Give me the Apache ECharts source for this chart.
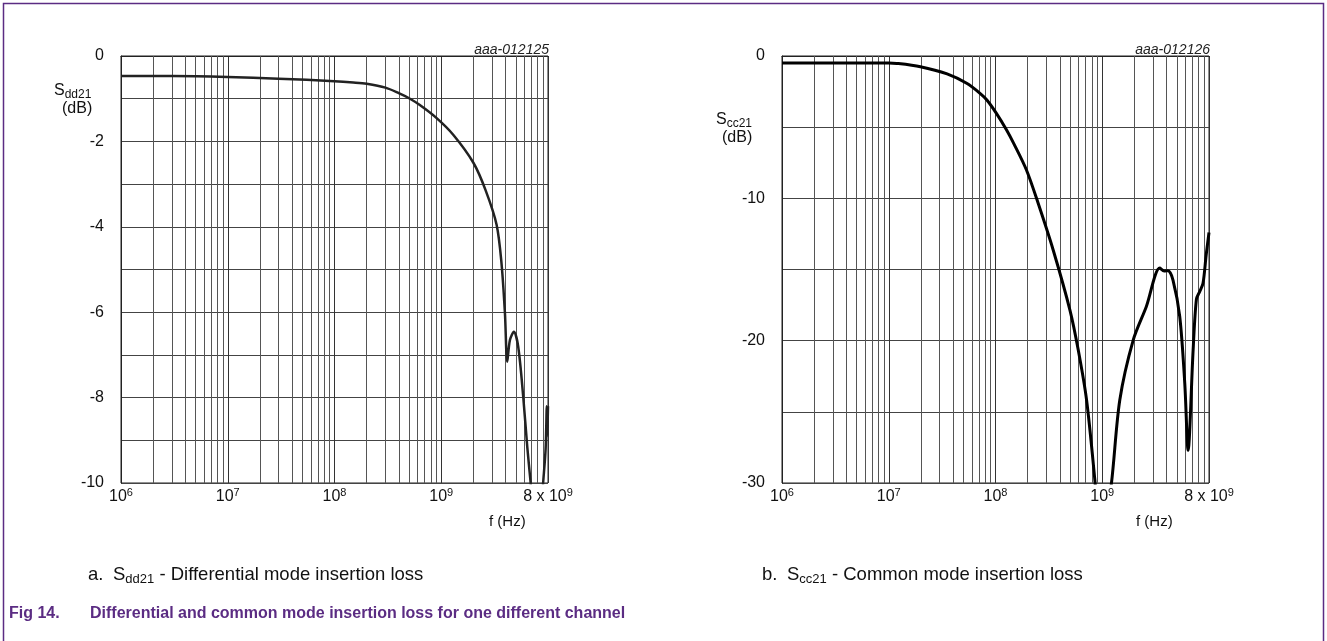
<!DOCTYPE html>
<html>
<head>
<meta charset="utf-8">
<script src="https://cdn.jsdelivr.net/npm/echarts@6/dist/echarts.min.js"></script>
<style>
  html, body { margin: 0; padding: 0; background: #fff; }
  #chart { width: 1327px; height: 641px; }
</style>
</head>
<body>
<div id="chart"></div>
<script>
// a. Sdd21 differential mode insertion loss (f in Hz, value in dB)
var sddFreq = [1e6, 3e6, 1e7, 3e7, 1e8, 1.5e8, 2e8, 3e8, 4e8, 5e8, 6.3e8, 9e8, 1.3e9, 2e9, 2.6e9, 3.3e9,
  3.67e9, 3.95e9, 4.15e9, 4.4e9, 4.79e9, 5.26e9, 5.86e9, 6.39e9, 6.88e9, 7.6e9, 8.4e9, 9.0e9,
  9.5e9, 9.75e9, 9.85e9, 1e10];
var sddLoss = [-0.47, -0.47, -0.49, -0.53, -0.59, -0.62, -0.65, -0.74, -0.87, -0.99, -1.15, -1.45, -1.85, -2.5, -3.14, -3.95,
  -4.86, -6.02, -7.16, -6.65, -6.46, -6.81, -7.98, -9.15, -10.0, -11.2, -11.0, -10.0,
  -9.2, -8.2, -8.9, -8.2];

// b. Scc21 common mode insertion loss
var sccFreq = [1e6, 1e7, 1.19e7, 1.98e7, 3.52e7, 5.37e7, 7.16e7, 8.3e7, 1.02e8, 1.27e8, 1.48e8, 1.95e8, 2.51e8,
  3.47e8, 4.98e8, 5.96e8, 7.13e8, 8.53e8, 9.3e8, 1.05e9, 1.22e9, 1.46e9, 1.95e9, 2.59e9,
  3.46e9, 3.8e9, 4.14e9, 4.6e9, 5.32e9, 5.93e9, 6.37e9, 7.1e9, 7.62e9, 8.18e9, 8.79e9, 9.4e9, 1e10];
var sccLoss = [-0.5, -0.5, -0.52, -0.75, -1.26, -1.92, -2.62, -3.09, -4.03, -5.2, -6.14, -8.01, -10.35,
  -13.63, -17.85, -20.66, -24.17, -29.8, -33, -33, -30, -24.17, -19.96, -17.6,
  -14.9, -15.1, -15.08, -15.74, -18.3, -23.0, -27.7, -20.66, -17.1, -16.55, -15.97, -14.0, -12.4];

// log grid: 1..9 x each decade
var decades = [1e6, 1e7, 1e8, 1e9];
var gridSteps = [1, 2, 3, 4, 5, 6, 7, 8, 9];

var FONT = '"Liberation Sans", Arial, sans-serif';
var PURPLE = '#5b2c83';

function pairs(xs, ys) {
  return xs.map(function (x, i) { return [x, ys[i]]; });
}

var vLines = [];
decades.forEach(function (d) {
  gridSteps.forEach(function (s) {
    if (s > 1) vLines.push({ xAxis: d * s });
  });
});

function xLabel(v) {
  var e = Math.round(Math.log10(v));
  if (e === 10) return '{m|8 x 10}{s|9}';
  return '{m|10}{s|' + e + '}';
}

var xAxisBase = {
  type: 'log',
  logBase: 10,
  min: 1e6,
  max: 1e10,
  axisLine: { show: true, lineStyle: { color: '#222', width: 1 } },
  axisTick: { show: false },
  splitLine: { show: true, lineStyle: { color: '#333', width: 1 } },
  axisLabel: {
    margin: 4,
    color: '#111',
    fontFamily: FONT,
    formatter: xLabel,
    rich: {
      m: { fontSize: 16, fontFamily: FONT, color: '#111' },
      s: { fontSize: 11, fontFamily: FONT, color: '#111', padding: [0, 0, 9, 0] }
    }
  }
};

function gridSeries(idx) {
  return {
    type: 'line',
    xAxisIndex: idx,
    yAxisIndex: idx,
    data: [],
    silent: true,
    z: 1,
    markLine: {
      silent: true,
      symbol: 'none',
      label: { show: false },
      lineStyle: { color: '#555', width: 1, type: 'solid' },
      emphasis: { disabled: true },
      animation: false,
      data: vLines
    }
  };
}

function richCaption(left, tag, sub, rest) {
  return [
    { type: 'text', left: left, top: 565, style: { text: tag, font: '18.5px ' + FONT, fill: '#111' } },
    {
      type: 'text', left: left + 25, top: 565,
      style: {
        text: '{n|S}{sub|' + sub + '}{n| - ' + rest + '}', font: '18.5px ' + FONT, fill: '#111',
        rich: { n: { fontSize: 18.5, fontFamily: FONT }, sub: { fontSize: 13, fontFamily: FONT, padding: [10, 0, 0, 0] } }
      }
    }
  ];
}

var chart = echarts.init(document.getElementById('chart'));
chart.setOption({
  backgroundColor: '#fff',
  animation: false,
  grid: [
    { left: 121, top: 56, width: 427, height: 427, show: true, borderColor: '#222', borderWidth: 1 },
    { left: 782, top: 56, width: 427, height: 427, show: true, borderColor: '#222', borderWidth: 1 }
  ],
  xAxis: [
    Object.assign({ gridIndex: 0 }, xAxisBase),
    Object.assign({ gridIndex: 1 }, xAxisBase)
  ],
  yAxis: [
    {
      gridIndex: 0, type: 'value', min: -10, max: 0, interval: 1,
      axisLine: { show: true, lineStyle: { color: '#222' } },
      axisTick: { show: false },
      splitLine: { lineStyle: { color: '#444', width: 1 } },
      axisLabel: {
        margin: 17, fontSize: 16, color: '#111', fontFamily: FONT,
        formatter: function (v) { return v % 2 === 0 ? String(v) : ''; }
      }
    },
    {
      gridIndex: 1, type: 'value', min: -30, max: 0, interval: 5,
      axisLine: { show: true, lineStyle: { color: '#222' } },
      axisTick: { show: false },
      splitLine: { lineStyle: { color: '#444', width: 1 } },
      axisLabel: {
        margin: 17, fontSize: 16, color: '#111', fontFamily: FONT,
        formatter: function (v) { return v % 10 === 0 ? String(v) : ''; }
      }
    }
  ],
  series: [
    gridSeries(0),
    gridSeries(1),
    {
      name: 'Sdd21', type: 'line', xAxisIndex: 0, yAxisIndex: 0, z: 5,
      data: pairs(sddFreq, sddLoss), smooth: 0.3, showSymbol: false, clip: true,
      lineStyle: { color: '#222', width: 2.5 }
    },
    {
      name: 'Scc21', type: 'line', xAxisIndex: 1, yAxisIndex: 1, z: 5,
      data: pairs(sccFreq, sccLoss), smooth: 0.3, showSymbol: false, clip: true,
      lineStyle: { color: '#000', width: 3 }
    }
  ],
  graphic: [
    {
      type: 'polyline', silent: true,
      shape: { points: [[3.5, 641], [3.5, 3.5], [1323.5, 3.5], [1323.5, 641]] },
      style: { stroke: PURPLE, lineWidth: 1.5, fill: null }
    },
    // y axis names
    {
      type: 'text', left: 54, top: 83,
      style: {
        text: '{n|S}{sub|dd21}', font: '16px ' + FONT, fill: '#111',
        rich: { n: { fontSize: 16, fontFamily: FONT }, sub: { fontSize: 12, fontFamily: FONT, padding: [8, 0, 0, 0] } }
      }
    },
    { type: 'text', left: 62, top: 101, style: { text: '(dB)', font: '16px ' + FONT, fill: '#111' } },
    {
      type: 'text', left: 716, top: 112,
      style: {
        text: '{n|S}{sub|cc21}', font: '16px ' + FONT, fill: '#111',
        rich: { n: { fontSize: 16, fontFamily: FONT }, sub: { fontSize: 12, fontFamily: FONT, padding: [8, 0, 0, 0] } }
      }
    },
    { type: 'text', left: 722, top: 130, style: { text: '(dB)', font: '16px ' + FONT, fill: '#111' } },
    // figure codes
    { type: 'text', right: 1327 - 549, top: 43, style: { text: 'aaa-012125', font: 'italic 14px ' + FONT, fill: '#222' } },
    { type: 'text', right: 1327 - 1210, top: 43, style: { text: 'aaa-012126', font: 'italic 14px ' + FONT, fill: '#222' } },
    // x axis names
    { type: 'text', left: 489, top: 514, style: { text: 'f (Hz)', font: '15px ' + FONT, fill: '#111' } },
    { type: 'text', left: 1136, top: 514, style: { text: 'f (Hz)', font: '15px ' + FONT, fill: '#111' } }
  ].concat(
    richCaption(88, 'a.', 'dd21', 'Differential mode insertion loss'),
    richCaption(762, 'b.', 'cc21', 'Common mode insertion loss'),
    [
      { type: 'text', left: 9, top: 606, style: { text: 'Fig 14.', font: 'bold 16px ' + FONT, fill: PURPLE } },
      {
        type: 'text', left: 90, top: 606,
        style: { text: 'Differential and common mode insertion loss for one different channel', font: 'bold 16px ' + FONT, fill: PURPLE }
      }
    ]
  )
});
</script>
</body>
</html>
